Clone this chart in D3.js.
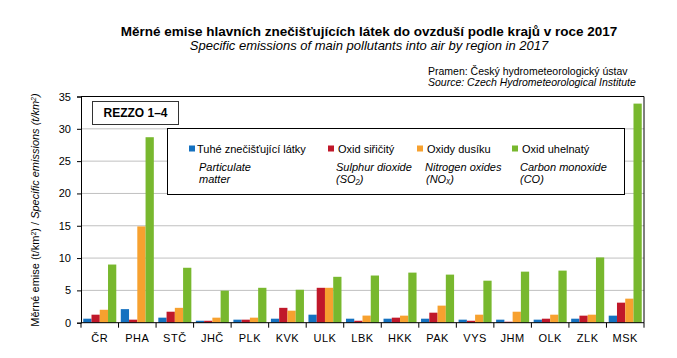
<!DOCTYPE html>
<html><head><meta charset="utf-8">
<script src="https://cdn.jsdelivr.net/npm/d3@7"></script>
<style>body{margin:0;background:#fff}svg{display:block;font-family:"Liberation Sans",Arial,sans-serif}</style>
</head><body><svg id="c" width="677" height="358"></svg>
<script>
const categories = ["ČR","PHA","STČ","JHČ","PLK","KVK","ULK","LBK","HKK","PAK","VYS","JHM","OLK","ZLK","MSK"];
const particulate = [0.62,2.1,0.78,0.3,0.47,0.62,1.24,0.62,0.62,0.62,0.47,0.47,0.47,0.62,1.09];
const so2 = [1.24,0.47,1.7,0.3,0.47,2.3,5.4,0.3,0.78,1.55,0.3,0.15,0.62,1.09,3.1];
const nox = [2.0,14.9,2.3,0.78,0.78,1.86,5.4,1.1,1.09,2.64,1.24,1.7,1.24,1.24,3.72];
const co = [9.0,28.7,8.5,4.96,5.4,5.1,7.1,7.3,7.75,7.44,6.5,7.9,8.06,10.1,33.9];
const seriesNames = ["Tuhé znečišťující látky","Oxid siřičitý","Oxidy dusíku","Oxid uhelnatý"];
const seriesEn = [["Particulate","matter"],["Sulphur dioxide","(SO₂)"],["Nitrogen oxides","(NOₓ)"],["Carbon monoxide","(CO)"]];
const yTicks = [0,5,10,15,20,25,30,35];
const colors = ["#1471c0","#c0182a","#f7a12f","#78b82e"];
const series = [particulate, so2, nox, co];

const svg = d3.select("#c");
const L=81, R=644, T=96.5, B=322.7;
const x = d3.scaleBand().domain(categories).range([L,R]).paddingInner(0.12).paddingOuter(0.06);
const xOuter = d3.scaleBand().domain(categories).range([L,R]);
const xs = d3.scaleBand().domain(d3.range(4)).range([0,x.bandwidth()]);
const y = d3.scaleLinear().domain([0,35]).range([B,T]);

// gridlines
svg.append("g").selectAll("line").data(yTicks.filter(d=>d>0 && d<35)).join("line")
 .attr("x1",L).attr("x2",R).attr("y1",d=>y(d)).attr("y2",d=>y(d))
 .attr("stroke","#c0c0c0").attr("stroke-width",1);
// top & right border
svg.append("path").attr("d",`M${L},${y(35)}H${R}V${B}`).attr("fill","none").attr("stroke","#000").attr("stroke-width",1);

// bars
const g = svg.append("g");
series.forEach((s,i)=>{
  g.selectAll(null).data(s).join("rect")
   .attr("x",(d,j)=>x(categories[j])+xs(i))
   .attr("width",xs.bandwidth())
   .attr("y",d=>y(d)).attr("height",d=>B-y(d))
   .attr("fill",colors[i]);
});

// y axis
const ya = svg.append("g").attr("transform",`translate(${L},0)`)
  .call(d3.axisLeft(y).tickValues(yTicks).tickSize(4).tickPadding(6));
ya.select(".domain").attr("stroke","#000");
ya.selectAll("text").attr("font-size",11).attr("font-family","Liberation Sans, Arial").attr("fill","#000");
ya.selectAll(".tick line").attr("stroke","#000");

// x axis
const xa = svg.append("g").attr("transform",`translate(0,${B})`);
xa.append("line").attr("x1",L).attr("x2",R).attr("stroke","#000");
xa.selectAll("line.t").data(d3.range(categories.length+1)).join("line").attr("class","t")
  .attr("x1",i=>L+i*xOuter.step()).attr("x2",i=>L+i*xOuter.step()).attr("y1",0).attr("y2",5).attr("stroke","#000");
xa.selectAll("text").data(categories).join("text")
  .attr("x",d=>xOuter(d)+xOuter.bandwidth()/2).attr("y",19)
  .attr("text-anchor","middle").attr("font-size",11).attr("fill","#000").attr("letter-spacing","0.5").text(d=>d);

// REZZO box
svg.append("rect").attr("x",92.5).attr("y",101.5).attr("width",86).attr("height",23).attr("fill","#fff").attr("stroke","#333");
svg.append("text").attr("x",135.5).attr("y",117).attr("text-anchor","middle").attr("font-size",12).attr("font-weight","bold").text("REZZO  1–4");

// legend box
svg.append("rect").attr("x",167.5).attr("y",128.5).attr("width",457).attr("height",66).attr("fill","#fff").attr("stroke","#000");
const lx=[189,328,417,512];
seriesNames.forEach((n,i)=>{
  svg.append("rect").attr("x",lx[i]).attr("y",145.5).attr("width",6).attr("height",6).attr("fill",colors[i]);
  svg.append("text").attr("x",lx[i]+(i==0?8:10)).attr("y",152.5).attr("font-size",11).text(n);
  const ex = i==0?199:lx[i]+8;
  seriesEn[i].forEach((t,k)=>{
    svg.append("text").attr("x",ex+(i==2&&k==1?1:0)).attr("y",170.5+k*12.5).attr("font-size",11).attr("font-style","italic").text(t);
  });
});

// titles
svg.append("text").attr("x",369).attr("y",36).attr("text-anchor","middle").attr("font-size",13.5).attr("font-weight","bold").text("Měrné emise hlavních znečišťujících látek do ovzduší  podle krajů v roce 2017");
svg.append("text").attr("x",369).attr("y",50).attr("text-anchor","middle").attr("font-size",13).attr("font-style","italic").text("Specific emissions of main pollutants into air by region  in 2017");
svg.append("text").attr("x",428).attr("y",74.5).attr("font-size",10.5).text("Pramen:  Český hydrometeorologický ústav");
svg.append("text").attr("x",428).attr("y",86).attr("font-size",10.5).attr("font-style","italic").text("Source: Czech Hydrometeorological Institute");

// y label
const yl = svg.append("text").attr("transform","translate(39,210) rotate(-90)").attr("text-anchor","middle").attr("font-size",11);
yl.append("tspan").text("Měrné emise (t/km");
yl.append("tspan").attr("baseline-shift","super").attr("font-size",7).text("2");
yl.append("tspan").text(") / ");
yl.append("tspan").attr("font-style","italic").text("Specific emissions (t/km");
yl.append("tspan").attr("font-style","italic").attr("baseline-shift","super").attr("font-size",7).text("2");
yl.append("tspan").attr("font-style","italic").text(")");
</script></body></html>
